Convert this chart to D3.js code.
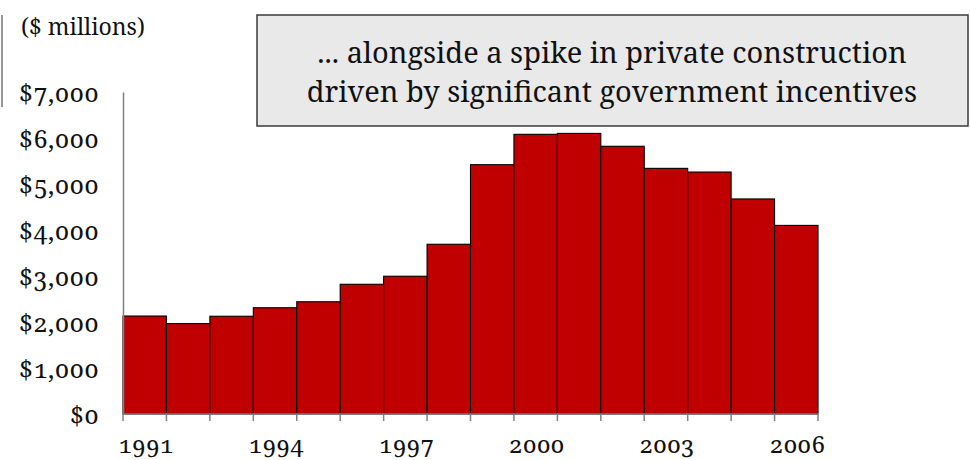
<!DOCTYPE html>
<html>
<head>
<meta charset="utf-8">
<script src="https://cdn.jsdelivr.net/npm/d3@7"></script>
<style>
  html, body { margin: 0; padding: 0; background: #fff; }
  svg { display: block; }
  text { font-family: "Noto Serif", "Liberation Serif", serif; fill: #111; }
  .num { font-variant-numeric: oldstyle-nums; font-feature-settings: "onum" 1; }
</style>
</head>
<body>
<svg id="chart" width="970" height="460"></svg>
<script>
// Annual private construction spending, $ millions
const years = [1991, 1992, 1993, 1994, 1995, 1996, 1997, 1998,
               1999, 2000, 2001, 2002, 2003, 2004, 2005, 2006];
const spending = [2130, 1965, 2125, 2310, 2440, 2820, 2995, 3690,
                  5420, 6080, 6100, 5820, 5340, 5260, 4675, 4100];
const yTicks = [0, 1000, 2000, 3000, 4000, 5000, 6000, 7000];
const yearLabels = [1991, 1994, 1997, 2000, 2003, 2006];
const unitLabel = "($ millions)";
const titleLines = ["... alongside a spike in private construction",
                    "driven by significant government incentives"];

const svg = d3.select("#chart");
const plotLeft = 123, plotRight = 818, plotTop = 92, plotBottom = 414;
const fontFamily = "Noto Serif, Liberation Serif, serif";

const x = d3.scaleBand().domain(years).range([plotLeft, plotRight]).padding(0);
const y = d3.scaleLinear().domain([0, 7000]).range([plotBottom, plotTop]);

// frame edge at far left
svg.append("line")
  .attr("x1", 2).attr("x2", 2).attr("y1", 15).attr("y2", 107)
  .attr("stroke", "#333").attr("stroke-width", 1);

// unit label
svg.append("text")
  .attr("x", 21).attr("y", 35)
  .attr("font-size", 23)
  .text(unitLabel);

// bars
svg.append("g").selectAll("rect")
  .data(years)
  .join("rect")
  .attr("x", d => x(d))
  .attr("y", (d, i) => y(spending[i]))
  .attr("width", x.bandwidth())
  .attr("height", (d, i) => y(0) - y(spending[i]))
  .attr("fill", "#c00000")
  .attr("stroke", "#000")
  .attr("stroke-width", 1.1);

// y axis
const yAxis = svg.append("g")
  .attr("transform", `translate(${plotLeft},0)`)
  .call(d3.axisLeft(y).tickValues(yTicks).tickSize(0).tickPadding(24)
    .tickFormat(d => "$" + d3.format(",")(d)));
yAxis.attr("font-family", fontFamily);
yAxis.select(".domain").attr("stroke", "#808080").attr("stroke-width", 1.5);
yAxis.selectAll("text")
  .attr("class", "num")
  .attr("font-size", 25)
  .attr("letter-spacing", 0.3)
  .attr("dy", "0.36em")
  .attr("fill", "#111");

// x axis: ticks on the bar boundaries, labels on every third bar
const bounds = years.map(d => x(d)).concat([plotRight]);
const xg = svg.append("g");
xg.append("line")
  .attr("x1", plotLeft).attr("x2", plotRight).attr("y1", plotBottom).attr("y2", plotBottom)
  .attr("stroke", "#808080").attr("stroke-width", 1.5);
xg.selectAll("line.tick")
  .data(bounds)
  .join("line")
  .attr("class", "tick")
  .attr("x1", d => d).attr("x2", d => d)
  .attr("y1", plotBottom).attr("y2", plotBottom + 7)
  .attr("stroke", "#808080").attr("stroke-width", 1.5);
xg.selectAll("text")
  .data(yearLabels)
  .join("text")
  .attr("class", "num")
  .attr("x", d => x(d) + x.bandwidth() / 2 + 1)
  .attr("y", 453)
  .attr("text-anchor", "middle")
  .attr("font-size", 24)
  .text(d => d);

// callout box
const box = svg.append("g");
box.append("rect")
  .attr("x", 257).attr("y", 15).attr("width", 711).attr("height", 111)
  .attr("fill", "#e9e9e9").attr("stroke", "#3a3a3a").attr("stroke-width", 1.5);
box.selectAll("text")
  .data(titleLines)
  .join("text")
  .attr("x", 612)
  .attr("y", (d, i) => 63 + i * 39)
  .attr("text-anchor", "middle")
  .attr("font-size", 29)
  .text(d => d);
</script>
</body>
</html>
